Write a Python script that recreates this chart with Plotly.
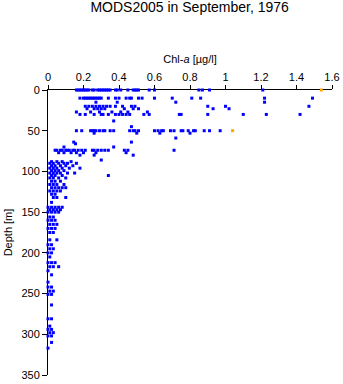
import plotly.graph_objects as go

# Depth levels (m) and the Chl-a values (µg/l) observed at each level
depth_levels = [0, 10, 15, 20, 23, 27, 30, 38, 45, 50, 53, 59, 64, 66, 70, 74, 77, 80, 86,
                88, 90, 93, 96, 99, 102, 105, 108, 112, 116, 120, 124, 128, 132, 138,
                144, 147, 150, 156, 160, 165, 170, 175, 184, 190, 195, 200, 205, 212,
                217, 222, 227, 236, 242, 247, 251, 264, 281, 290, 294, 298, 302, 310, 317]
chl_rows = [
    [0.16, 0.17, 0.18, 0.19, 0.20, 0.21, 0.22, 0.23, 0.25, 0.26, 0.28, 0.29, 0.30, 0.31, 0.32,
     0.33, 0.34, 0.35, 0.38, 0.39, 0.41, 0.45, 0.48, 0.49, 0.50, 0.51, 0.57, 0.60, 0.85, 0.87,
     0.91, 1.21],
    [0.18, 0.20, 0.21, 0.22, 0.23, 0.24, 0.25, 0.26, 0.27, 0.28, 0.29, 0.30, 0.34, 0.38, 0.40,
     0.44, 0.46, 0.47, 0.51, 0.53, 0.60, 0.70, 0.81, 0.86, 1.22, 1.49],
    [0.27, 0.39, 0.72, 1.22],
    [0.21, 0.23, 0.25, 0.27, 0.29, 0.31, 0.33, 0.35, 0.38, 0.42, 0.47, 0.49, 0.90, 1.00, 1.47],
    [0.22, 0.26, 0.28, 0.30, 0.32, 0.43, 0.48, 0.51, 0.93, 1.02],
    [0.16, 0.24, 0.29, 0.36, 0.41, 0.45, 0.56],
    [0.18, 0.21, 0.26, 0.30, 0.31, 0.34, 0.38, 0.40, 0.42, 0.44, 0.46, 0.54, 0.57, 0.74, 0.75,
     0.90, 1.10, 1.23, 1.42],
    [0.37],
    [0.47],
    [0.16, 0.19, 0.24, 0.25, 0.26, 0.27, 0.29, 0.31, 0.32, 0.35, 0.37, 0.46, 0.48, 0.49, 0.51,
     0.60, 0.62, 0.64, 0.65, 0.69, 0.71, 0.75, 0.76, 0.79, 0.82, 0.83, 0.88, 0.91, 0.97],
    [0.26, 0.50, 0.63, 0.80],
    [0.72],
    [0.47, 0.145],
    [0.155],
    [0.37, 0.09],
    [0.04, 0.05, 0.07, 0.08, 0.10, 0.11, 0.12, 0.14, 0.15, 0.17, 0.19, 0.21, 0.25, 0.26, 0.28,
     0.30, 0.32, 0.34, 0.43, 0.45, 0.71],
    [0.06, 0.09, 0.13, 0.16, 0.20, 0.27, 0.44],
    [0.18, 0.26, 0.48],
    [0.30],
    [0.02, 0.05, 0.08, 0.13],
    [0.01, 0.03, 0.06, 0.09, 0.11, 0.16],
    [0.02, 0.04, 0.07, 0.10, 0.14],
    [0.01, 0.03, 0.05, 0.08, 0.12, 0.18],
    [0.02, 0.04, 0.06, 0.09],
    [0.01, 0.03, 0.05, 0.07, 0.11, 0.15],
    [0.02, 0.04, 0.08, 0.34],
    [0.01, 0.03, 0.06, 0.10],
    [0.02, 0.04, 0.07],
    [0.01, 0.03, 0.05, 0.09],
    [0.02, 0.04, 0.06, 0.08, 0.10],
    [0.01, 0.03, 0.05, 0.07],
    [0.02, 0.04],
    [0.03, 0.05, 0.10],
    [0.02],
    [0.00, 0.02, 0.04, 0.06, 0.08],
    [0.01, 0.03, 0.05, 0.07],
    [0.00, 0.02, 0.04, 0.06],
    [0.01, 0.03],
    [0.00, 0.02, 0.04],
    [0.01, 0.03, 0.05],
    [0.00, 0.02, 0.04],
    [0.01, 0.03],
    [0.01, 0.05],
    [0.00, 0.02],
    [0.01, 0.03],
    [0.00, 0.02],
    [0.01],
    [0.00, 0.02, 0.04],
    [0.01, 0.03, 0.06],
    [0.00],
    [0.02],
    [0.00],
    [0.00, 0.02],
    [0.01, 0.03],
    [0.00, 0.02],
    [0.02],
    [0.00, 0.02],
    [0.01],
    [0.00, 0.02],
    [0.01, 0.03],
    [0.00, 0.02],
    [0.02],
    [0.00],
]

# Flagged (orange) observations
flag_chl = [1.54, 1.04]
flag_depth = [0, 50]

x_ticks = [0, 0.2, 0.4, 0.6, 0.8, 1.0, 1.2, 1.4, 1.6]
x_tick_labels = ["0", "0.2", "0.4", "0.6", "0.8", "1", "1.2", "1.4", "1.6"]
y_ticks = [0, 50, 100, 150, 200, 250, 300, 350]

blue_x, blue_y = [], []
for d, row in zip(depth_levels, chl_rows):
    for v in row:
        blue_x.append(v)
        blue_y.append(d)

FONT = "Liberation Sans, Arial, sans-serif"

fig = go.Figure()
fig.add_trace(go.Scatter(x=blue_x, y=blue_y, mode="markers",
                         marker=dict(symbol="square", size=3, color="#0000ff", line=dict(width=0)),
                         cliponaxis=False, showlegend=False))
fig.add_trace(go.Scatter(x=flag_chl, y=flag_depth, mode="markers",
                         marker=dict(symbol="square", size=3, color="#ffa500", line=dict(width=0)),
                         cliponaxis=False, showlegend=False))

fig.update_layout(
    width=343, height=384,
    margin=dict(l=47.5, r=11, t=90, b=9),
    paper_bgcolor="white", plot_bgcolor="white",
    font=dict(family=FONT, size=11, color="black"),
    title=dict(text="MODS2005 in September, 1976", x=0.553, xanchor="center",
               y=0.995, yanchor="top", font=dict(family=FONT, size=14, color="black")),
    xaxis=dict(side="top", range=[0, 1.6], tickvals=x_ticks, ticktext=x_tick_labels,
               ticks="outside", ticklen=4, tickwidth=1, tickcolor="black",
               showline=True, linecolor="black", linewidth=1, mirror=False,
               showgrid=False, zeroline=False, layer="below traces", automargin=False,
               title=dict(text="Chl-<i>a</i> [µg/l]", standoff=4,
                          font=dict(family=FONT, size=11, color="black"))),
    yaxis=dict(range=[350, 0], tickvals=y_ticks, ticks="outside", ticklen=5, tickwidth=1,
               tickcolor="black", showline=True, linecolor="black", linewidth=1,
               showgrid=False, zeroline=False, layer="below traces", automargin=False,
               title=dict(text="Depth [m]", standoff=6,
                          font=dict(family=FONT, size=11, color="black"))),
)

fig.write_html("out.html")
